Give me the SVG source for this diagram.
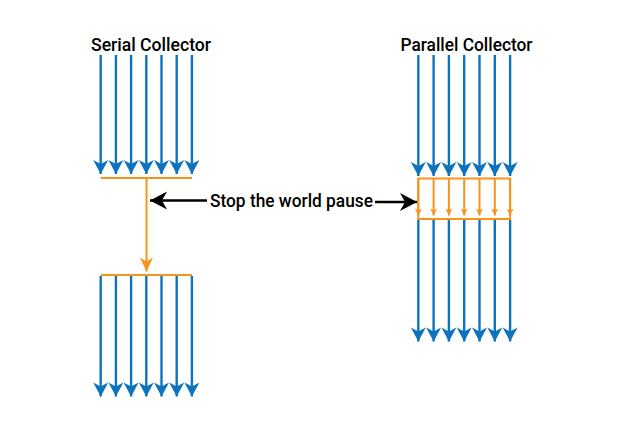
<svg xmlns="http://www.w3.org/2000/svg" width="617" height="422" viewBox="0 0 617 422">
<style>
.b{stroke:#0e73be;stroke-width:2.4;fill:none}
.o{stroke:#f7941d;stroke-width:2;fill:none}
.k{stroke:#000;stroke-width:2.4;fill:none}
text{font-family:"Roboto","Liberation Sans",sans-serif;font-weight:500;fill:#000}
marker{overflow:visible}
</style>
<defs>
<marker id="ab" markerUnits="userSpaceOnUse" markerWidth="16" markerHeight="16" refX="0" refY="0" orient="auto">
<path d="M0,0 L-14,-7.5 L-10,0 L-14,7.5 Z" fill="#0e73be"/>
</marker>
<marker id="ao" markerUnits="userSpaceOnUse" markerWidth="16" markerHeight="16" refX="0" refY="0" orient="auto">
<path d="M0,0 L-14,-6.5 L-10,0 L-14,6.5 Z" fill="#f7941d"/>
</marker>
<marker id="aos" markerUnits="userSpaceOnUse" markerWidth="8" markerHeight="8" refX="0" refY="0" orient="auto">
<path d="M0,0 L-7,-3.5 L-5,0 L-7,3.5 Z" fill="#f7941d"/>
</marker>
<marker id="ak" markerUnits="userSpaceOnUse" markerWidth="19" markerHeight="20" refX="0" refY="0" orient="auto">
<path d="M0,0 L-17,-9 L-12,0 L-17,9 Z" fill="#000"/>
</marker>
</defs>
<g id="serial-title"><text x="151" y="51" font-size="18" text-anchor="middle" textLength="120" lengthAdjust="spacingAndGlyphs">Serial Collector</text></g>
<g id="parallel-title"><text x="466.5" y="51" font-size="18" text-anchor="middle" textLength="132" lengthAdjust="spacingAndGlyphs">Parallel Collector</text></g>
<g id="pause-label"><text x="291.5" y="207" font-size="18" text-anchor="middle" textLength="163" lengthAdjust="spacingAndGlyphs">Stop the world pause</text></g>
<g id="connectors">
<g id="serial-top">
<path class="b" d="M100.7,55V174" marker-end="url(#ab)"/>
<path class="b" d="M115.9,55V174" marker-end="url(#ab)"/>
<path class="b" d="M131.1,55V174" marker-end="url(#ab)"/>
<path class="b" d="M146.3,55V174" marker-end="url(#ab)"/>
<path class="b" d="M161.5,55V174" marker-end="url(#ab)"/>
<path class="b" d="M176.7,55V174" marker-end="url(#ab)"/>
<path class="b" d="M191.9,55V174" marker-end="url(#ab)"/>
</g>
<path class="o" d="M100.7,178H192"/>
<path class="o" d="M146.5,178V271.5" marker-end="url(#ao)"/>
<path class="o" d="M100.7,275H192"/>
<g id="serial-bottom">
<path class="b" d="M100.7,276V396.5" marker-end="url(#ab)"/>
<path class="b" d="M115.9,276V396.5" marker-end="url(#ab)"/>
<path class="b" d="M131.1,276V396.5" marker-end="url(#ab)"/>
<path class="b" d="M146.3,276V396.5" marker-end="url(#ab)"/>
<path class="b" d="M161.5,276V396.5" marker-end="url(#ab)"/>
<path class="b" d="M176.7,276V396.5" marker-end="url(#ab)"/>
<path class="b" d="M191.9,276V396.5" marker-end="url(#ab)"/>
</g>
<g id="parallel-top">
<path class="b" d="M418.3,55V176" marker-end="url(#ab)"/>
<path class="b" d="M433.6,55V176" marker-end="url(#ab)"/>
<path class="b" d="M448.9,55V176" marker-end="url(#ab)"/>
<path class="b" d="M464.2,55V176" marker-end="url(#ab)"/>
<path class="b" d="M479.5,55V176" marker-end="url(#ab)"/>
<path class="b" d="M494.8,55V176" marker-end="url(#ab)"/>
<path class="b" d="M510.1,55V176" marker-end="url(#ab)"/>
</g>
<rect class="o" x="418.3" y="178.5" width="91.8" height="40.5"/>
<g id="parallel-threads">
<path class="o" d="M418.3,179V215.5" marker-end="url(#aos)"/>
<path class="o" d="M433.6,179V215.5" marker-end="url(#aos)"/>
<path class="o" d="M448.9,179V215.5" marker-end="url(#aos)"/>
<path class="o" d="M464.2,179V215.5" marker-end="url(#aos)"/>
<path class="o" d="M479.5,179V215.5" marker-end="url(#aos)"/>
<path class="o" d="M494.8,179V215.5" marker-end="url(#aos)"/>
<path class="o" d="M510.1,179V215.5" marker-end="url(#aos)"/>
</g>
<g id="parallel-bottom">
<path class="b" d="M418.3,220V341.5" marker-end="url(#ab)"/>
<path class="b" d="M433.6,220V341.5" marker-end="url(#ab)"/>
<path class="b" d="M448.9,220V341.5" marker-end="url(#ab)"/>
<path class="b" d="M464.2,220V341.5" marker-end="url(#ab)"/>
<path class="b" d="M479.5,220V341.5" marker-end="url(#ab)"/>
<path class="b" d="M494.8,220V341.5" marker-end="url(#ab)"/>
<path class="b" d="M510.1,220V341.5" marker-end="url(#ab)"/>
</g>
<path class="k" d="M207,200.5H150" marker-end="url(#ak)"/>
<path class="k" d="M375,202H417" marker-end="url(#ak)"/>
</g>
</svg>
